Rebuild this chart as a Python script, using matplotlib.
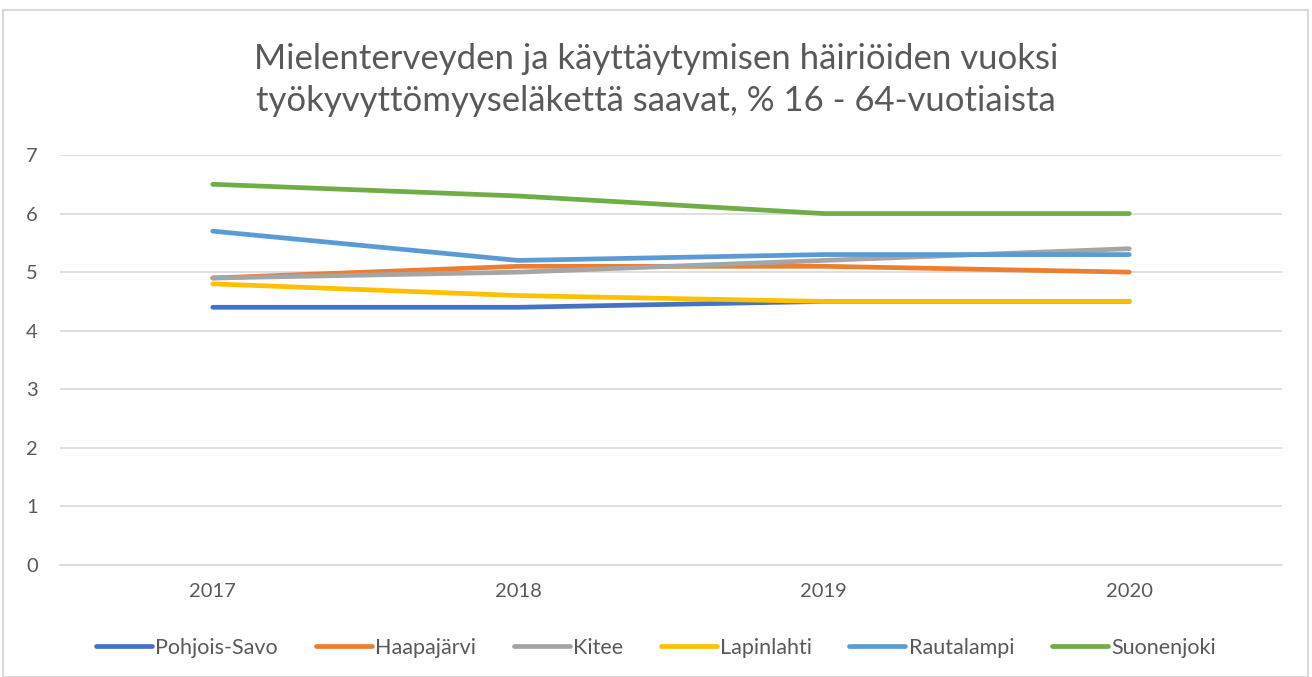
import matplotlib
matplotlib.use("Agg")
import matplotlib.pyplot as plt
from matplotlib.patches import Rectangle

years = ["2017", "2018", "2019", "2020"]
pohjois_savo = [4.4, 4.4, 4.5, 4.5]
haapajarvi = [4.9, 5.1, 5.1, 5.0]
kitee = [4.9, 5.0, 5.2, 5.4]
lapinlahti = [4.8, 4.6, 4.5, 4.5]
rautalampi = [5.7, 5.2, 5.3, 5.3]
suonenjoki = [6.5, 6.3, 6.0, 6.0]

series = [
    ("Pohjois-Savo", pohjois_savo, "#4472C4"),
    ("Haapajärvi", haapajarvi, "#ED7D31"),
    ("Kitee", kitee, "#A5A5A5"),
    ("Lapinlahti", lapinlahti, "#FFC000"),
    ("Rautalampi", rautalampi, "#5B9BD5"),
    ("Suonenjoki", suonenjoki, "#70AD47"),
]

plt.rcParams['font.family'] = ['Lato', 'DejaVu Sans']
txt = "#595959"

fig = plt.figure(figsize=(13.12, 6.77), dpi=100)
fig.patches.append(Rectangle((3 / 1312, 0), 1305 / 1312, 667 / 677, transform=fig.transFigure,
                             fill=False, edgecolor="#d9d9d9", linewidth=1.5))
ax = fig.add_axes([60 / 1312, 1 - 565 / 677, 1222 / 1312, 410 / 677])

x = range(len(years))
for name, vals, col in series:
    ax.plot(x, vals, color=col, linewidth=3.4, solid_capstyle="round",
            solid_joinstyle="round", label=name)

ax.set_xlim(-0.5, 3.5)
ax.set_ylim(0, 7)
ax.set_yticks(range(0, 8))
ax.set_xticks(list(x))
ax.set_xticklabels(years)
ax.tick_params(colors=txt, labelsize=14.5, length=0)
ax.tick_params(axis="x", pad=13)
ax.tick_params(axis="y", pad=16)
ax.grid(axis="y", color="#d9d9d9", linewidth=1.2)
ax.set_axisbelow(True)
for s in ["top", "right", "left"]:
    ax.spines[s].set_visible(False)
ax.spines["bottom"].set_color("#d9d9d9")
ax.spines["bottom"].set_linewidth(1.2)

fig.text(0.5, 1 - 80 / 677, "Mielenterveyden ja käyttäytymisen häiriöiden vuoksi\ntyökyvyttömyyseläkettä saavat, % 16 - 64-vuotiaista",
         ha="center", va="center", fontsize=25, color=txt, linespacing=1.37)

fig.legend(loc="center", bbox_to_anchor=(0.5, 1 - 648 / 677), ncol=6, frameon=False,
           fontsize=15.5, labelcolor=txt, handlelength=2.6, handletextpad=0.15, columnspacing=1.75)

fig.savefig("out.png", dpi=100)
